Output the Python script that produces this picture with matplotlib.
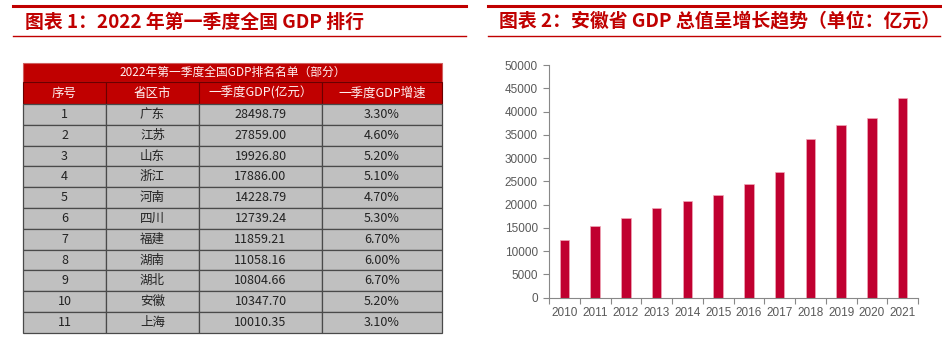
import numpy as np
import matplotlib.pyplot as plt
from matplotlib.patches import Rectangle

plt.rcParams['font.family'] = ['Noto Sans CJK SC', 'DejaVu Sans']

# 表格数据
table_title = '2022年第一季度全国GDP排名名单（部分）'
headers = ['序号', '省区市', '一季度GDP(亿元）', '一季度GDP增速']
ranks = [1, 2, 3, 4, 5, 6, 7, 8, 9, 10, 11]
provinces = ['广东', '江苏', '山东', '浙江', '河南', '四川', '福建', '湖南', '湖北', '安徽', '上海']
gdp_q1 = [28498.79, 27859.00, 19926.80, 17886.00, 14228.79, 12739.24,
          11859.21, 11058.16, 10804.66, 10347.70, 10010.35]
growth = [3.30, 4.60, 5.20, 5.10, 4.70, 5.30, 6.70, 6.00, 6.70, 5.20, 3.10]

# 柱状图数据
years = ['2010', '2011', '2012', '2013', '2014', '2015',
         '2016', '2017', '2018', '2019', '2020', '2021']
anhui_gdp = [12359, 15301, 17212, 19229, 20849, 22006,
             24408, 27018, 34011, 37114, 38681, 42959]

red = '#C00000'
bar_red = '#C00030'

fig = plt.figure(figsize=(9.42, 3.39), dpi=100)

# 整体画布坐标（像素）
bg = fig.add_axes([0, 0, 1, 1])
bg.set_xlim(0, 942)
bg.set_ylim(339, 0)
bg.axis('off')

# 标题与红线
bg.plot([13, 466], [6, 6], color=red, lw=2.2)
bg.plot([13, 466], [35.5, 35.5], color=red, lw=1.0)
bg.plot([488, 940], [6, 6], color=red, lw=2.2)
bg.plot([488, 940], [35.5, 35.5], color=red, lw=1.0)
bg.text(25, 22, '图表 1：2022 年第一季度全国 GDP 排行', color=red, fontsize=13.6,
        fontweight='bold', va='center', ha='left', style='italic')
bg.text(499, 22, '图表 2：安徽省 GDP 总值呈增长趋势（单位：亿元）', color=red, fontsize=13.6,
        fontweight='bold', va='center', ha='left', style='italic')

# 表格
col_edges = [23, 106, 199, 322, 442]
top = 63
title_h = 19
head_h = 22
row_h = 20.8
line_c = '#4a4a4a'

bg.add_patch(Rectangle((col_edges[0], top), col_edges[-1] - col_edges[0], title_h,
                       facecolor=red, edgecolor='#d06060', lw=0.8))
bg.text((col_edges[0] + col_edges[-1]) / 2, top + title_h / 2, table_title,
        color='#fff0f0', fontsize=8.5, ha='center', va='center')

y0 = top + title_h
for j, h in enumerate(headers):
    bg.add_patch(Rectangle((col_edges[j], y0), col_edges[j + 1] - col_edges[j], head_h,
                           facecolor=red, edgecolor='#6a0000', lw=0.8))
    bg.text((col_edges[j] + col_edges[j + 1]) / 2, y0 + head_h / 2, h,
            color='#fff0f0', fontsize=9, ha='center', va='center')

y0 = top + title_h + head_h
for i in range(len(ranks)):
    cells = [str(ranks[i]), provinces[i], '%.2f' % gdp_q1[i], '%.2f%%' % growth[i]]
    y = y0 + i * row_h
    for j, s in enumerate(cells):
        bg.add_patch(Rectangle((col_edges[j], y), col_edges[j + 1] - col_edges[j], row_h,
                               facecolor='#c0c0c0', edgecolor=line_c, lw=0.9))
        bg.text((col_edges[j] + col_edges[j + 1]) / 2, y + row_h / 2, s,
                color='#222222', fontsize=9, ha='center', va='center')

# 柱状图
ax = fig.add_axes([549 / 942, 1 - 297.7 / 339, (918 - 549) / 942, (297.7 - 65) / 339])
x = np.arange(len(years))
ax.bar(x, anhui_gdp, width=0.31, color=bar_red, edgecolor='#f0a8b8', linewidth=0.5)
ax.set_xlim(-0.5, len(years) - 0.5)
ax.set_ylim(0, 50000)
ax.set_yticks(np.arange(0, 50001, 5000))
ax.set_xticks(x)
ax.set_xticklabels(years)
ax.set_xticks(np.arange(-0.5, len(years), 1), minor=True)
ax.tick_params(axis='x', which='major', length=0, pad=7)
ax.tick_params(axis='x', which='minor', length=4, color='#888888', width=0.8)
ax.tick_params(axis='y', length=4, color='#888888', width=0.8, pad=4)
for lab in ax.get_xticklabels() + ax.get_yticklabels():
    lab.set_family(['Liberation Sans', 'DejaVu Sans'])
    lab.set_fontsize(8.5)
    lab.set_color('#595959')
for s in ['top', 'right']:
    ax.spines[s].set_visible(False)
for s in ['left', 'bottom']:
    ax.spines[s].set_color('#888888')
    ax.spines[s].set_linewidth(0.8)

fig.savefig('out.png', dpi=100)
